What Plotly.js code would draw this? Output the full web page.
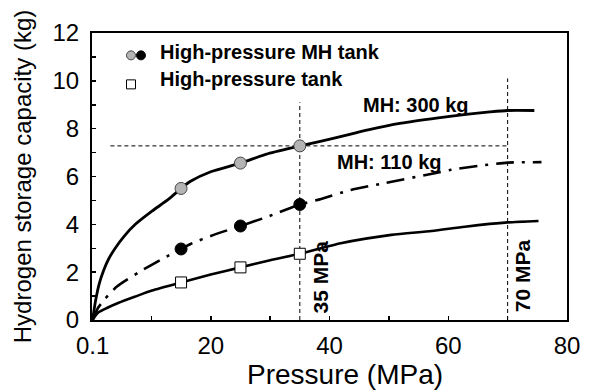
<!DOCTYPE html>
<html>
<head>
<meta charset="utf-8">
<script src="https://cdn.plot.ly/plotly-3.0.1.min.js"></script>
<style>html,body{margin:0;padding:0;background:#fff;}#chart{width:589px;height:392px;}</style>
</head>
<body>
<div id="chart"></div>
<script>
// ---- Data ----
const mh300CurveX = [0.1, 0.6, 1.2, 2.0, 2.8, 3.9, 5.4, 7.3, 10.1, 12.9, 15, 16.6, 20, 25, 29.6, 35, 40.8, 46.5, 52.1, 58.3, 63, 67, 70, 74.5];
const mh300CurveY = [0, 0.8, 1.5, 2.1, 2.55, 3.0, 3.5, 4.0, 4.55, 5.05, 5.5, 5.8, 6.2, 6.56, 6.95, 7.28, 7.6, 7.95, 8.23, 8.45, 8.6, 8.7, 8.76, 8.76];

const mh110CurveX = [0.1, 1.0, 2.25, 4.2, 7.9, 11.8, 15, 16.6, 20.5, 25, 29.6, 35, 38.6, 43.6, 49.3, 57.7, 60.5, 65.6, 70, 75.7];
const mh110CurveY = [0, 0.5, 0.9, 1.4, 2.0, 2.55, 2.97, 3.18, 3.56, 3.93, 4.32, 4.83, 5.06, 5.44, 5.72, 6.14, 6.28, 6.46, 6.58, 6.6];

const tankCurveX = [0.1, 1.0, 2.5, 4.5, 7.3, 10.1, 15, 20, 25, 30, 35, 41.9, 50.4, 57.2, 62.8, 70, 75.2];
const tankCurveY = [0, 0.3, 0.5, 0.72, 0.98, 1.23, 1.57, 1.9, 2.2, 2.5, 2.77, 3.21, 3.56, 3.72, 3.9, 4.08, 4.14];

const markerPressures = [15, 25, 35];
const mh300Points = [5.5, 6.56, 7.28];
const mh110Points = [2.97, 3.93, 4.83];
const tankPoints = [1.57, 2.2, 2.77];

const refLine35X = [35, 35];
const refLine35Y = [0, 9.1];
const refLine70X = [70, 70];
const refLine70Y = [0, 10.1];
const refLineHX = [3.1, 70];
const refLineHY = [7.28, 7.28];

const xTickVals = [0.1, 20, 40, 60, 80];
const xTickText = ['0.1', '20', '40', '60', '80'];
const xMinorVals = [10, 30, 50, 70];

const legendTexts = ['High-pressure MH tank', 'High-pressure tank'];
const curveLabels = ['MH: 300 kg', 'MH: 110 kg'];
const pressureLabels = ['35 MPa', '70 MPa'];

// ---- Styles ----
const FONT = 'Liberation Sans, Arial, sans-serif';
const grayFill = '#b4b4b4';

const traces = [
  {x: refLine35X, y: refLine35Y, mode: 'lines', line: {color: 'black', width: 1, dash: '4px,3px'}, showlegend: false, hoverinfo: 'skip'},
  {x: refLine70X, y: refLine70Y, mode: 'lines', line: {color: 'black', width: 1, dash: '4px,3px'}, showlegend: false, hoverinfo: 'skip'},
  {x: refLineHX, y: refLineHY, mode: 'lines', line: {color: 'black', width: 1, dash: '4px,3px'}, showlegend: false, hoverinfo: 'skip'},
  {x: mh300CurveX, y: mh300CurveY, mode: 'lines', line: {color: 'black', width: 2.8, shape: 'spline', smoothing: 0.6}, showlegend: false},
  {x: mh110CurveX, y: mh110CurveY, mode: 'lines', line: {color: 'black', width: 2.6, dash: '18px,8px,3px,8px', shape: 'spline', smoothing: 0.6}, showlegend: false},
  {x: tankCurveX, y: tankCurveY, mode: 'lines', line: {color: 'black', width: 2.6, shape: 'spline', smoothing: 0.6}, showlegend: false},
  {x: markerPressures, y: mh300Points, mode: 'markers', marker: {symbol: 'circle', size: 12, color: grayFill, line: {color: '#444', width: 1}}, showlegend: false},
  {x: markerPressures, y: mh110Points, mode: 'markers', marker: {symbol: 'circle', size: 12, color: 'black', line: {color: 'black', width: 1}}, showlegend: false},
  {x: markerPressures, y: tankPoints, mode: 'markers', marker: {symbol: 'square', size: 11, color: 'white', line: {color: 'black', width: 1}}, showlegend: false},
  // legend symbols
  {x: [null], y: [null], mode: 'markers', name: ' ', legend: 'legend', legendgroup: 'a', marker: {symbol: 'circle', size: 9, color: grayFill, line: {color: '#444', width: 1}}},
  {x: [null], y: [null], mode: 'markers', name: ' ', legend: 'legend', legendgroup: 'b', marker: {symbol: 'square', size: 9, color: 'white', line: {color: 'black', width: 1}}},
  {x: [null], y: [null], mode: 'markers', name: ' ', legend: 'legend2', marker: {symbol: 'circle', size: 9, color: 'black', line: {color: 'black', width: 1}}}
];

const annFont = {family: FONT, size: 20, color: 'black', weight: 'bold'};
const rotFont = {family: FONT, size: 21, color: 'black', weight: 'bold'};
const annotations = [
  {xref: 'paper', yref: 'paper', x: 0.1396, y: 0.935, xanchor: 'left', yanchor: 'middle', text: legendTexts[0], showarrow: false, font: annFont},
  {xref: 'paper', yref: 'paper', x: 0.1396, y: 0.8387, xanchor: 'left', yanchor: 'middle', text: legendTexts[1], showarrow: false, font: annFont},
  {x: 54.6, y: 9.0, text: curveLabels[0], showarrow: false, font: annFont},
  {x: 50, y: 6.62, text: curveLabels[1], showarrow: false, font: annFont},
  {x: 38.5, y: 1.8, text: pressureLabels[0], textangle: -90, showarrow: false, font: rotFont},
  {x: 72.5, y: 1.85, text: pressureLabels[1], textangle: -90, showarrow: false, font: rotFont}
];

const layout = {
  width: 589, height: 392,
  margin: {l: 92, r: 22, t: 33, b: 72},
  paper_bgcolor: 'white', plot_bgcolor: 'white',
  font: {family: FONT, color: 'black'},
  showlegend: true,
  legend: {x: 0.04, y: 0.99, xanchor: 'left', yanchor: 'top', bgcolor: 'rgba(0,0,0,0)', borderwidth: 0, font: {size: 20}, tracegroupgap: 0, itemwidth: 30},
  legend2: {x: 0.061, y: 0.99, xanchor: 'left', yanchor: 'top', bgcolor: 'rgba(0,0,0,0)', borderwidth: 0, font: {size: 20}, itemwidth: 30},
  xaxis: {
    range: [0, 80], tickmode: 'array', tickvals: xTickVals, ticktext: xTickText,
    ticks: 'inside', ticklen: 4, tickwidth: 1.5, tickcolor: 'black',
    minor: {tickmode: 'array', tickvals: xMinorVals, ticks: 'inside', ticklen: 4, tickwidth: 1.5, tickcolor: 'black'},
    showline: true, linewidth: 2, linecolor: 'black', mirror: true,
    showgrid: false, zeroline: false, automargin: false,
    tickfont: {family: FONT, size: 24, color: 'black'}, ticklabelstandoff: 3,
    title: {text: '\u200b\u00a0\u00a0\u00a0\u00a0Pressure (MPa)', font: {family: FONT, size: 28, color: 'black'}, standoff: 3}
  },
  yaxis: {
    range: [0, 12], tickmode: 'linear', tick0: 0, dtick: 2,
    ticks: 'inside', ticklen: 4, tickwidth: 1.5, tickcolor: 'black',
    minor: {tick0: 0, dtick: 1, ticks: 'inside', ticklen: 4, tickwidth: 1.5, tickcolor: 'black'},
    showline: true, linewidth: 2, linecolor: 'black', mirror: true,
    showgrid: false, zeroline: false, automargin: false,
    tickfont: {family: FONT, size: 24, color: 'black'}, ticklabelstandoff: 6,
    title: {text: 'Hydrogen storage capacity (kg)', font: {family: FONT, size: 24, color: 'black'}, standoff: 14}
  },
  annotations: annotations
};

Plotly.newPlot('chart', traces, layout, {displayModeBar: false, staticPlot: true});
</script>
</body>
</html>
